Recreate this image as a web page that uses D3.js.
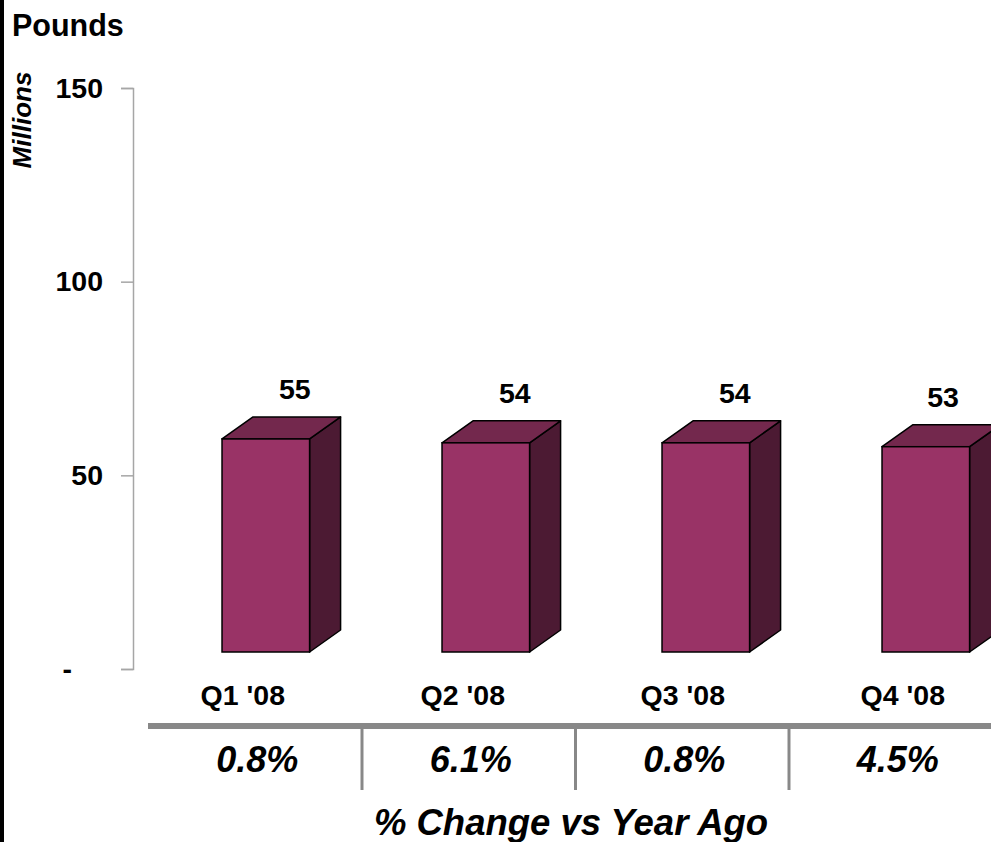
<!DOCTYPE html>
<html>
<head>
<meta charset="utf-8">
<script src="https://cdnjs.cloudflare.com/ajax/libs/d3/7.8.5/d3.min.js"></script>
<style>
  html, body { margin: 0; padding: 0; background: #fff; overflow: hidden; }
  svg { display: block; font-family: "Liberation Sans", Arial, sans-serif; }
</style>
</head>
<body>
<svg id="chart" width="991" height="842"></svg>
<script>
const categories = ["Q1 '08", "Q2 '08", "Q3 '08", "Q4 '08"];
const values = [55, 54, 54, 53];
const pctChange = ["0.8%", "6.1%", "0.8%", "4.5%"];
const yTicks = [0, 50, 100, 150];

const W = 991, H = 842;
const svg = d3.select("#chart");
svg.append("rect").attr("width", W).attr("height", H).attr("fill", "#fff");
// left black border strip
svg.append("rect").attr("x", 0).attr("y", 0).attr("width", 4).attr("height", H).attr("fill", "#000");

const axisX = 133;
const y = d3.scaleLinear().domain([0, 150]).range([669, 88]);
const x = d3.scaleBand().domain(categories).range([155.8, 1035.8]).paddingInner(0.602).paddingOuter(0.301);

const floorOff = 17, dx = 31, dy = -22;

// y axis
const gAxis = svg.append("g").attr("transform", `translate(${axisX},0)`)
  .call(d3.axisLeft(y).tickValues(yTicks).tickSize(12).tickSizeOuter(12).tickPadding(18)
    .tickFormat(d => d === 0 ? "-" : d));
gAxis.select(".domain").attr("stroke", "#a6a6a6").attr("stroke-width", 1.5);
gAxis.selectAll(".tick line").attr("stroke", "#a6a6a6").attr("stroke-width", 1.5);
gAxis.selectAll(".tick text").attr("fill", "#000").attr("font-size", 28.5).attr("font-weight", "bold")
  .attr("font-family", "'Liberation Sans', Arial, sans-serif");
gAxis.selectAll(".tick").filter(d => d === 0).select("text").attr("dx", -31);

// axis titles
svg.append("text").attr("x", 12).attr("y", 36).attr("font-size", 30.5).attr("font-weight", "bold").text("Pounds");
svg.append("text").attr("transform", "translate(31,120) rotate(-90)").attr("text-anchor", "middle")
  .attr("font-size", 26).attr("font-weight", "bold").attr("font-style", "italic").text("Millions");

// 3D bars
const bars = svg.append("g");
categories.forEach((c, i) => {
  const v = values[i];
  const xf = x(c), w = x.bandwidth();
  const yt = y(v) - floorOff, yb = y(0) - floorOff;
  const g = bars.append("g");
  g.append("polygon")
    .attr("points", [[xf + w, yt], [xf + w + dx, yt + dy], [xf + w + dx, yb + dy], [xf + w, yb]].map(p => p.join(",")).join(" "))
    .attr("fill", "#4c1a33").attr("stroke", "#000").attr("stroke-width", 1.5).attr("stroke-linejoin", "round");
  g.append("polygon")
    .attr("points", [[xf, yt], [xf + dx, yt + dy], [xf + w + dx, yt + dy], [xf + w, yt]].map(p => p.join(",")).join(" "))
    .attr("fill", "#73284d").attr("stroke", "#000").attr("stroke-width", 1.5).attr("stroke-linejoin", "round");
  g.append("rect").attr("x", xf).attr("y", yt).attr("width", w).attr("height", yb - yt)
    .attr("fill", "#993366").attr("stroke", "#000").attr("stroke-width", 1.5);
  // value label
  const lx = Math.min(xf + w / 2 + 29, 943);
  g.append("text").attr("x", lx).attr("y", yt + dy - 17.5).attr("text-anchor", "middle")
    .attr("font-size", 28.5).attr("font-weight", "bold").text(v);
  // category label
  svg.append("text").attr("x", xf + w / 2 - 23).attr("y", 705).attr("text-anchor", "middle")
    .attr("font-size", 28.5).attr("font-weight", "bold").text(c);
});

// table below
const t = d3.scaleBand().domain(categories).range([148.5, 1002.5]);
svg.append("line").attr("x1", 148).attr("x2", W).attr("y1", 726).attr("y2", 726)
  .attr("stroke", "#888").attr("stroke-width", 6);
categories.slice(1).forEach(c => {
  svg.append("line").attr("x1", t(c)).attr("x2", t(c)).attr("y1", 729).attr("y2", 790)
    .attr("stroke", "#888").attr("stroke-width", 3);
});
categories.forEach((c, i) => {
  svg.append("text").attr("x", t(c) + t.bandwidth() / 2 + 2).attr("y", 772).attr("text-anchor", "middle")
    .attr("font-size", 36).attr("font-weight", "bold").attr("font-style", "italic").text(pctChange[i]);
});
svg.append("text").attr("x", 571).attr("y", 835).attr("text-anchor", "middle")
  .attr("font-size", 36.5).attr("font-weight", "bold").attr("font-style", "italic").text("% Change vs Year Ago");
</script>
</body>
</html>
